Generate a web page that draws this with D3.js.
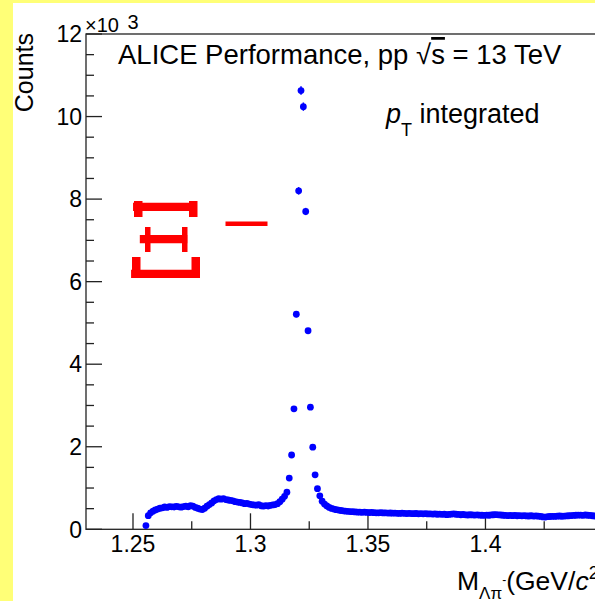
<!DOCTYPE html>
<html>
<head>
<meta charset="utf-8">
<script src="https://cdn.jsdelivr.net/npm/d3@7"></script>
<style>
  html, body { margin: 0; padding: 0; background: #fff; }
  text { font-family: "Liberation Sans", Arial, sans-serif; fill: #000; }
</style>
</head>
<body>
<script>
"use strict";

// histogram binning (GeV/c^2), 1 MeV bins
var binLow = 1.255;
var binWidth = 0.001;

// counts per bin
var counts = [
  90, 330, 400, 440, 470, 490, 510, 520, 540, 530,
  550, 545, 540, 555, 545, 535, 550, 560, 545, 575,
  560, 530, 510, 490, 480, 510, 560, 600, 640, 690,
  720, 740, 730, 745, 720, 710, 700, 690, 670, 660,
  650, 640, 620, 630, 610, 600, 590, 585, 600, 570,
  560, 575, 565, 580, 590, 600, 620, 670, 730, 800,
  900, 1240, 1800, 2920, 5210, 8200, 10630, 10240, 7700, 4810,
  2960, 1990, 1320, 985, 810, 680, 610, 565, 530, 505,
  490, 475, 465, 455, 448, 440, 435, 430, 428, 420,
  418, 415, 412, 418, 408, 405, 410, 402, 400, 398,
  402, 396, 398, 392, 395, 390, 393, 388, 385, 390,
  386, 382, 388, 380, 378, 383, 376, 380, 374, 378,
  372, 375, 368, 372, 365, 370, 362, 366, 355, 360,
  368, 372, 365, 360, 352, 358, 350, 346, 352, 348,
  344, 350, 342, 340, 338, 345, 340, 348, 352, 355,
  350, 346, 340, 336, 332, 338, 330, 335, 328, 332,
  326, 330, 324, 322, 328, 320, 325, 318, 312, 300,
  296, 305, 310, 315, 312, 318, 322, 316, 320, 325,
  328, 332, 336, 340, 345, 342, 338, 346, 340, 335,
  328, 322, 326, 320
];

var xMajor = [1.25, 1.3, 1.35, 1.4];
var xMinor = [1.275, 1.325, 1.375, 1.425];
var yMajor = [0, 2, 4, 6, 8, 10, 12];
var yMinor = [0.5, 1, 1.5, 2.5, 3, 3.5, 4.5, 5, 5.5, 6.5, 7, 7.5, 8.5, 9, 9.5, 10.5, 11, 11.5];

window.onload = function() {
  var width = 595, height = 601;
  var svg = d3.select("body").append("svg")
      .attr("width", width)
      .attr("height", height);

  // page background
  svg.append("rect").attr("width", width).attr("height", height).attr("fill", "#ffff77");
  svg.append("rect").attr("x", 13).attr("y", 3).attr("width", width).attr("height", height).attr("fill", "#fff");

  var x = d3.scaleLinear().domain([1.23, 1.449]).range([86, 600.6]);
  var y = d3.scaleLinear().domain([0, 12]).range([529.3, 34]);

  var data = counts.map(function(c, i) {
    return { m: binLow + binWidth * (i + 0.5), c: c / 1000, e: Math.sqrt(c) / 1000 };
  });

  // frame
  svg.append("rect")
      .attr("x", x(1.23)).attr("y", y(12))
      .attr("width", x(1.449) - x(1.23)).attr("height", y(0) - y(12))
      .attr("fill", "none").attr("stroke", "#222").attr("stroke-width", 1.3);

  // x ticks (inward)
  svg.append("g").selectAll("line").data(xMajor).join("line")
      .attr("x1", d => x(d)).attr("x2", d => x(d))
      .attr("y1", y(0)).attr("y2", y(0) - 16)
      .attr("stroke", "#222").attr("stroke-width", 1.3);
  svg.append("g").selectAll("line").data(xMinor).join("line")
      .attr("x1", d => x(d)).attr("x2", d => x(d))
      .attr("y1", y(0)).attr("y2", y(0) - 8)
      .attr("stroke", "#222").attr("stroke-width", 1.3);
  svg.append("g").selectAll("text").data(xMajor).join("text")
      .attr("x", d => x(d)).attr("y", y(0) + 22.5)
      .attr("text-anchor", "middle").attr("font-size", 23)
      .text(d => d3.format("")(d));

  // y ticks
  svg.append("g").selectAll("line").data(yMajor).join("line")
      .attr("x1", x(1.23)).attr("x2", x(1.23) + 16)
      .attr("y1", d => y(d)).attr("y2", d => y(d))
      .attr("stroke", "#222").attr("stroke-width", 1.3);
  svg.append("g").selectAll("line").data(yMinor).join("line")
      .attr("x1", x(1.23)).attr("x2", x(1.23) + 8)
      .attr("y1", d => y(d)).attr("y2", d => y(d))
      .attr("stroke", "#222").attr("stroke-width", 1.3);
  svg.append("g").selectAll("text").data(yMajor).join("text")
      .attr("x", 82).attr("y", d => y(d)).attr("dy", "0.36em")
      .attr("text-anchor", "end").attr("font-size", 23)
      .text(d => d);

  // x10^3
  var mult = svg.append("text").attr("x", 85).attr("y", 32).attr("font-size", 20);
  mult.append("tspan").text("\u00d710");
  mult.append("tspan").attr("x", 127.5).attr("y", 28.5).attr("font-size", 20).text("3");

  // axis titles
  svg.append("text")
      .attr("transform", "translate(33,33) rotate(-90)")
      .attr("text-anchor", "end").attr("font-size", 25)
      .text("Counts");

  var xt = svg.append("text").attr("x", 457).attr("y", 590).attr("font-size", 26.5);
  xt.append("tspan").text("M");
  xt.append("tspan").attr("dy", 9).attr("font-size", 17).text("\u039b\u03c0");
  xt.append("tspan").attr("dy", -15).attr("font-size", 12).text("-");
  xt.append("tspan").attr("dy", 6).text("(GeV/");
  xt.append("tspan").attr("font-style", "italic").text("c");
  xt.append("tspan").attr("dy", -11).attr("font-size", 18).text("2");
  xt.append("tspan").attr("dy", 11).text(")");

  // labels
  var t1 = svg.append("text").attr("x", 118).attr("y", 64).attr("font-size", 27.5);
  t1.append("tspan").text("ALICE Performance, pp  \u221a");
  t1.append("tspan").style("text-decoration", "overline").text("s");
  t1.append("tspan").text(" = 13 TeV");

  var t2 = svg.append("text").attr("x", 386).attr("y", 123).attr("font-size", 27);
  t2.append("tspan").attr("font-style", "italic").text("p");
  t2.append("tspan").attr("dy", 13).attr("font-size", 18).text("T");
  t2.append("tspan").attr("dy", -13).text(" integrated");

  // big red Xi^- label, with serifs added to match the original glyph
  var xi = svg.append("g").attr("fill", "#ff0000");
  xi.append("text")
      .attr("transform", "translate(126,278.3) scale(1.08,1.03)")
      .attr("font-family", "DejaVu Serif, serif")
      .attr("font-size", 107).style("fill", "#ff0000")
      .text("\u039e");
  var serifs = [
    [134, 201, 8.5, 16], [189, 201, 8.5, 16],     // top bar ends
    [145, 227, 5.5, 25], [182, 227, 5.5, 25],     // middle bar ends
    [132, 257, 8.5, 21], [191.5, 257, 8.5, 21]    // bottom bar ends
  ];
  xi.selectAll("rect").data(serifs).join("rect")
      .attr("x", d => d[0]).attr("y", d => d[1])
      .attr("width", d => d[2]).attr("height", d => d[3]);
  svg.append("text")
      .attr("transform", "translate(221.2,243.7) scale(1.2,0.85)")
      .attr("font-family", "Liberation Serif, Times New Roman, serif")
      .attr("font-size", 72).style("fill", "#ff0000")
      .text("\u2212");

  // error bars and markers
  var g = svg.append("g");
  g.selectAll("line").data(data).join("line")
      .attr("x1", d => x(d.m)).attr("x2", d => x(d.m))
      .attr("y1", d => y(d.c - d.e)).attr("y2", d => y(d.c + d.e))
      .attr("stroke", "#0000ff").attr("stroke-width", 1.5);
  g.selectAll("circle").data(data).join("circle")
      .attr("cx", d => x(d.m)).attr("cy", d => y(d.c))
      .attr("r", 3.4).attr("fill", "#0000ff");
};
</script>
</body>
</html>
